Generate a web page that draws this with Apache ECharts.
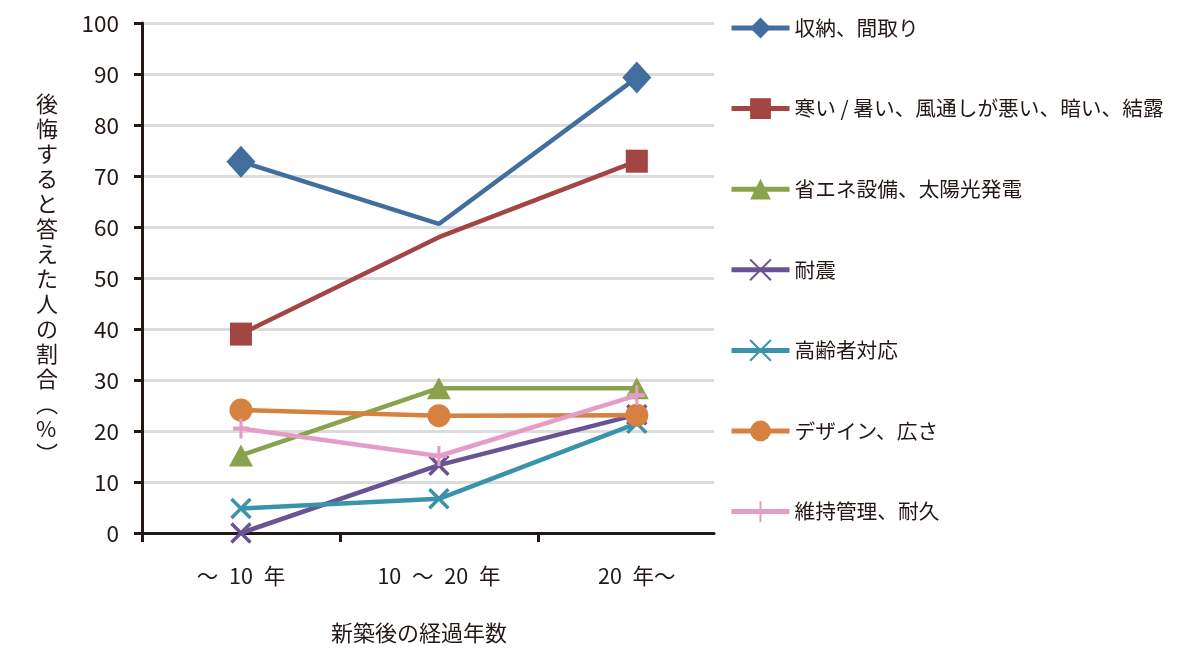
<!DOCTYPE html>
<html>
<head>
<meta charset="utf-8">
<script src="https://cdn.jsdelivr.net/npm/echarts@6/dist/echarts.min.js"></script>
<style>
html,body{margin:0;padding:0;background:#fff;}
#c{width:1200px;height:658px;}
</style>
</head>
<body>
<div id="c"></div>
<script>
const categories = ['〜\u200210\u2002年', '10\u2002〜\u200220\u2002年', '20\u2002年〜'];
const seriesNames = ['収納、間取り', '寒い / 暑い、風通しが悪い、暗い、結露', '省エネ設備、太陽光発電', '耐震', '高齢者対応', 'デザイン、広さ', '維持管理、耐久'];
const storage = [72.8, 60.6, 89.3];
const climate = [39.0, 58.0, 72.9];
const energy = [15.2, 28.4, 28.4];
const quake = [0, 13.3, 23.2];
const elderly = [4.8, 6.7, 21.5];
const design = [24.1, 23.0, 23.1];
const maintenance = [20.5, 15.1, 27.0];
const yTicks = [0, 10, 20, 30, 40, 50, 60, 70, 80, 90, 100];
const xAxisTitle = '新築後の経過年数';
const yAxisTitle = '後悔すると答えた人の割合︵%︶';

const colors = ['#416e9e', '#a24543', '#89a24c', '#6a5393', '#3a93ab', '#d6813f', '#e39dc6'];
const values = [storage, climate, energy, quake, elderly, design, maintenance];
const crossPath = 'path://M0,0L10,10M10,0L0,10';
const plusPath = 'path://M5,0L5,10M0,5L10,5';
const symbols = ['diamond', 'rect', 'triangle', crossPath, crossPath, 'circle', plusPath];
const symbolSizes = [[29, 32], [22, 23], [24, 22], [19, 19], [19, 19], [23, 23], [16, 20]];
const hideMiddle = [true, true, false, false, false, false, false];
const FONT = '"Noto Sans CJK JP", "Noto Sans", sans-serif';
const TXT = '#231815';

const series = seriesNames.map((name, i) => {
  const isPath = typeof symbols[i] === 'string' && symbols[i].startsWith('path://');
  return {
    name: name,
    type: 'line',
    data: values[i].map((v, k) => {
      const item = { value: [k, v] };
      if (hideMiddle[i] && k === 1) item.symbol = 'none';
      return item;
    }),
    symbol: symbols[i],
    symbolSize: symbolSizes[i],
    showAllSymbol: true,
    lineStyle: { color: colors[i], width: 4.5 },
    itemStyle: isPath ? { color: colors[i], borderColor: colors[i], borderWidth: 3.5 } : { color: colors[i] },
    emphasis: { disabled: true },
    animation: false,
    z: 2 + i
  };
});

const chart = echarts.init(document.getElementById('c'));
chart.setOption({
  animation: false,
  backgroundColor: '#fff',
  textStyle: { fontFamily: FONT, color: TXT },
  grid: { left: 142, right: 486, top: 23, bottom: 125, containLabel: false },
  xAxis: {
    type: 'value',
    min: -0.5,
    max: 2.39,
    splitLine: { show: false },
    axisLine: { show: true, onZero: false, lineStyle: { color: TXT, width: 3 } },
    axisTick: { show: true, customValues: [-0.5, 0.5, 1.5], length: 9, lineStyle: { color: TXT, width: 3 } },
    axisLabel: {
      customValues: [0, 1, 2],
      formatter: v => categories[Math.round(v)],
      fontSize: 21.5, color: TXT, fontFamily: FONT, margin: 32
    }
  },
  yAxis: {
    type: 'value',
    min: yTicks[0],
    max: yTicks[yTicks.length - 1],
    interval: 10,
    axisLine: { show: true, onZero: false, lineStyle: { color: TXT, width: 3 } },
    axisTick: { show: true, length: 8, lineStyle: { color: TXT, width: 3 } },
    splitLine: { show: true, lineStyle: { color: '#dcdcdc', width: 3 } },
    axisLabel: { fontSize: 22.5, color: TXT, fontFamily: FONT, margin: 23 }
  },
  legend: {
    orient: 'vertical',
    left: 724,
    top: 8,
    itemWidth: 58,
    itemHeight: 26,
    itemGap: 50.6,
    itemTextGap: 18,
    selectedMode: false,
    lineStyle: { width: 5 },
    textStyle: { fontSize: 20.7, color: TXT, fontFamily: FONT, lineHeight: 30 },
    data: seriesNames
  },
  graphic: [
    {
      type: 'text',
      left: 331,
      top: 622,
      style: { text: xAxisTitle, fontSize: 22, fill: TXT, fontFamily: FONT }
    },
    {
      type: 'text',
      left: 36,
      top: 91,
      style: {
        text: yAxisTitle.split('').join('\n'),
        fontSize: 22, lineHeight: 25, fill: TXT, fontFamily: FONT, align: 'center'
      }
    }
  ],
  series: series
});
</script>
</body>
</html>
